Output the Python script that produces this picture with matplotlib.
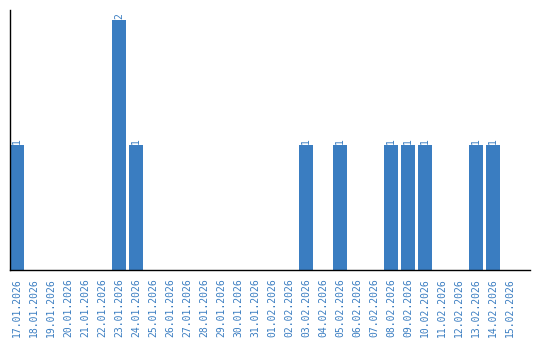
import matplotlib
matplotlib.use("Agg")
import matplotlib.pyplot as plt
import datetime as dt

start = dt.date(2026, 1, 17)
dates = [(start + dt.timedelta(days=i)).strftime("%d.%m.%Y") for i in range(30)]
counts_by_date = {
    "17.01.2026": 1, "23.01.2026": 2, "24.01.2026": 1, "03.02.2026": 1,
    "05.02.2026": 1, "08.02.2026": 1, "09.02.2026": 1, "10.02.2026": 1,
    "13.02.2026": 1, "14.02.2026": 1,
}
values = [counts_by_date.get(d, 0) for d in dates]

color = "#3a7dc1"
W, H = 540, 340
fig = plt.figure(figsize=(W / 100, H / 100), dpi=100)
ax = fig.add_axes([10 / W, 1 - 270 / H, 520 / W, 260 / H])
x = list(range(len(dates)))
bars = ax.bar(x, values, width=0.82, color=color)
for xi, v in zip(x, values):
    if v > 0:
        ax.text(xi, v + 0.01, str(v), rotation=90, ha="center", va="bottom",
                color=color, fontsize=7, family="DejaVu Sans Mono")
ax.set_xlim(-0.41, 30.18)
ax.set_ylim(0, 2.08)
ax.set_xticks(x)
ax.set_xticklabels(dates, rotation=90, color=color, fontsize=7, family="DejaVu Sans Mono")
ax.tick_params(axis="x", length=0, pad=6)
ax.set_yticks([])
for s in ["top", "right"]:
    ax.spines[s].set_visible(False)
for s in ["left", "bottom"]:
    ax.spines[s].set_color("black")
    ax.spines[s].set_linewidth(1)
fig.savefig("out.png", dpi=100)
